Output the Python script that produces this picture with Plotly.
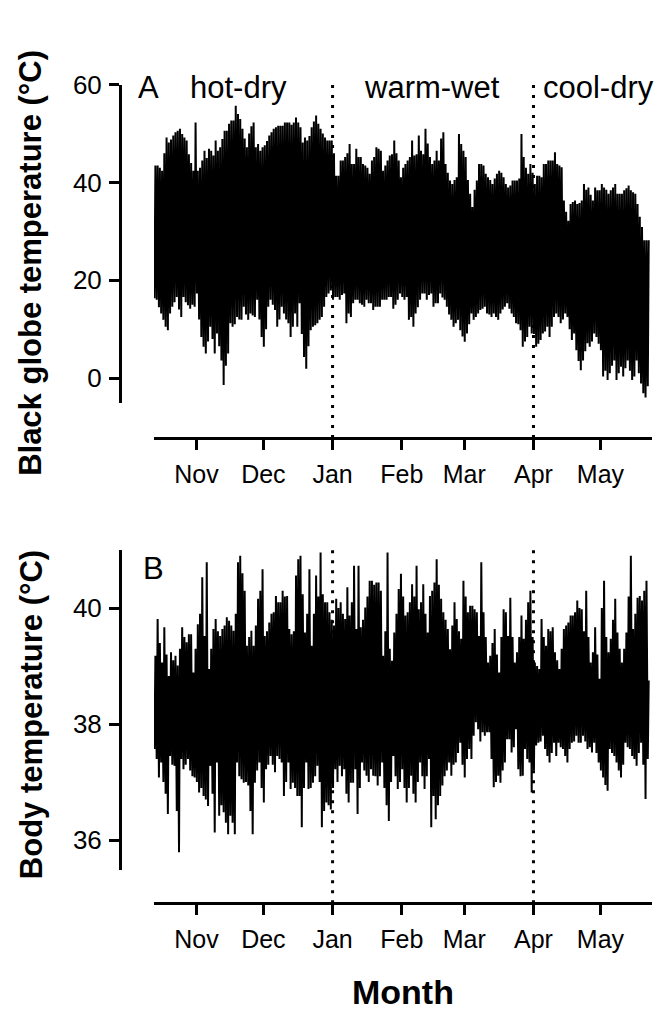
import pandas as pd
import plotly.graph_objects as go

# ---------------- data ----------------
start_date = "2008-10-13"          # first recorded day
month_ticks = ["2008-11-01", "2008-12-01", "2009-01-01", "2009-02-01",
               "2009-03-01", "2009-04-01", "2009-05-01"]
month_labels = ["Nov", "Dec", "Jan", "Feb", "Mar", "Apr", "May"]
season_bounds = ["2009-01-01", "2009-04-01"]
season_labels = ["hot-dry", "warm-wet", "cool-dry"]

# Panel A: black globe temperature, daily maximum / minimum (°C)
a_max = [43.5, 43.5, 43.0, 42.4, 46.0, 49.2, 48.2, 48.8, 49.6, 50.3,
         50.6, 51.0, 49.9, 49.2, 48.6, 45.8, 44.0, 42.4, 52.3, 42.4,
         43.0, 44.5, 46.5, 45.0, 46.9, 46.5, 45.5, 48.6, 46.5, 47.2,
         48.9, 50.6, 50.6, 52.0, 52.7, 52.7, 55.7, 54.0, 53.0, 51.0,
         49.0, 47.2, 50.0, 51.5, 52.3, 47.2, 47.9, 46.5, 47.2, 47.6,
         48.5, 49.6, 50.3, 51.0, 51.3, 51.6, 51.6, 51.6, 52.3, 52.3,
         52.3, 51.8, 52.3, 53.3, 52.3, 51.3, 48.2, 49.2, 48.6, 49.5,
         51.3, 52.5, 53.7, 52.0, 51.0, 50.0, 49.2, 48.6, 48.6, 48.6,
         46.0, 41.4, 41.4, 44.5, 44.5, 45.2, 46.0, 47.9, 43.8, 43.8,
         46.9, 45.2, 45.2, 43.8, 43.5, 43.0, 41.8, 44.5, 45.2, 47.2,
         46.9, 46.5, 42.4, 43.5, 44.5, 45.5, 45.8, 48.6, 46.0, 44.5,
         41.1, 43.0, 43.8, 44.5, 45.2, 48.6, 45.5, 45.8, 49.6, 46.5,
         45.8, 51.0, 48.0, 45.2, 43.8, 44.5, 46.5, 44.5, 49.0, 50.3,
         43.8, 42.0, 40.4, 39.7, 40.5, 41.1, 49.9, 47.9, 46.5, 45.2,
         40.5, 37.7, 35.0, 38.5, 40.4, 43.8, 43.8, 43.5, 41.8, 41.1,
         40.5, 39.7, 40.8, 41.8, 42.4, 42.0, 41.1, 39.7, 39.0, 39.4,
         40.4, 40.4, 40.4, 40.8, 49.9, 45.2, 43.0, 41.8, 43.8, 42.0,
         39.7, 41.4, 41.4, 41.1, 43.8, 43.8, 44.5, 44.5, 44.5, 46.2,
         43.8, 43.5, 43.1, 36.3, 34.0, 32.2, 35.6, 36.0, 36.3, 35.6,
         35.8, 36.3, 39.7, 38.5, 39.0, 37.5, 36.3, 39.0, 38.4, 38.4,
         39.7, 39.0, 38.5, 37.7, 38.4, 39.0, 39.7, 37.7, 37.7, 37.7,
         38.4, 38.8, 39.4, 38.4, 38.0, 37.7, 35.6, 33.0, 30.9, 28.2,
         28.2, 28.2]
a_min = [16.3, 16.0, 14.5, 13.2, 11.9, 10.5, 9.8, 13.2, 14.6, 15.5,
         16.6, 14.0, 12.5, 16.6, 15.5, 14.9, 14.2, 15.0, 14.6, 17.3,
         12.0, 8.4, 6.4, 5.0, 7.5, 10.5, 8.0, 5.0, 9.1, 6.5,
         3.6, -1.4, 2.5, 5.0, 11.2, 10.5, 11.0, 12.5, 12.0, 11.9,
         14.6, 13.0, 11.9, 13.2, 12.8, 12.5, 16.0, 12.0, 8.4, 6.4,
         10.0, 14.6, 16.0, 15.0, 13.9, 10.5, 12.0, 14.6, 13.2, 12.0,
         11.2, 8.4, 10.5, 13.2, 10.5, 15.3, 9.0, 4.3, 1.9, 6.5,
         9.8, 10.5, 10.8, 11.2, 11.9, 12.5, 14.6, 16.6, 17.3, 17.9,
         16.0, 16.6, 16.6, 16.0, 17.0, 17.3, 11.2, 13.2, 12.5, 15.3,
         16.0, 16.0, 15.3, 15.0, 14.6, 16.0, 15.3, 15.3, 13.9, 14.6,
         14.6, 14.6, 16.0, 16.0, 16.0, 16.6, 16.6, 14.2, 15.0, 16.0,
         17.3, 16.6, 16.0, 16.6, 11.9, 12.5, 10.5, 13.2, 14.5, 16.0,
         17.3, 17.3, 16.0, 17.0, 17.3, 14.6, 15.3, 15.3, 17.3, 16.5,
         16.0, 14.6, 13.0, 11.9, 10.5, 11.2, 11.9, 9.8, 8.5, 7.4,
         9.1, 11.0, 13.2, 11.9, 12.5, 13.2, 13.9, 14.2, 14.6, 13.2,
         13.0, 12.5, 13.2, 12.5, 11.9, 13.2, 14.0, 14.6, 15.3, 14.2,
         13.2, 12.5, 11.2, 11.0, 9.8, 6.4, 7.5, 8.4, 10.5, 9.1,
         9.0, 6.4, 7.0, 7.8, 9.1, 9.5, 10.5, 8.4, 10.5, 12.5,
         13.2, 12.5, 11.2, 12.0, 13.2, 12.5, 10.0, 7.8, 9.1, 5.7,
         3.5, 1.6, 3.6, 5.5, 7.1, 6.4, 7.5, 9.1, 8.4, 7.0,
         5.7, 0.3, 1.5, -0.4, 1.0, 2.5, 3.6, -0.4, 1.0, 2.3,
         0.3, 2.0, 3.6, 1.5, -0.4, 0.3, 3.6, 1.0, -1.1, -3.1,
         -4.0, -1.7]

# Panel B: body temperature, daily maximum / minimum (°C)
b_max = [39.18, 39.81, 39.4, 39.06, 39.67, 39.2, 38.83, 39.24, 39.1, 39.18,
         39.01, 39.3, 39.67, 39.5, 39.41, 39.55, 39.55, 38.89, 39.3, 39.72,
         39.9, 40.53, 39.52, 40.79, 38.95, 39.3, 39.64, 39.81, 39.6, 39.52,
         39.64, 39.7, 39.84, 39.78, 39.7, 39.61, 39.9, 40.79, 40.9, 40.6,
         40.30, 39.35, 39.5, 39.61, 39.35, 39.7, 40.16, 40.3, 40.67, 39.52,
         39.6, 39.75, 39.9, 39.93, 40.21, 40.1, 40.10, 40.30, 40.2, 40.21,
         39.64, 39.55, 39.6, 40.56, 40.84, 40.90, 40.24, 39.58, 39.9, 40.67,
         39.35, 39.9, 40.56, 40.2, 40.96, 40.24, 40.1, 40.10, 39.93, 39.8,
         39.70, 40.16, 40.0, 40.10, 39.9, 39.81, 40.36, 39.87, 40.1, 40.73,
         39.64, 40.73, 39.67, 39.8, 40.01, 40.2, 40.47, 40.47, 40.4, 40.44,
         40.44, 40.3, 39.18, 39.6, 40.96, 39.3, 39.09, 39.58, 39.9, 40.33,
         40.59, 40.2, 39.87, 39.93, 40.1, 40.41, 40.2, 40.73, 39.98, 40.1,
         40.41, 39.9, 39.58, 40.21, 40.3, 40.44, 40.84, 40.4, 40.16, 39.93,
         39.8, 39.64, 39.29, 39.7, 40.10, 39.81, 39.6, 39.47, 40.47, 40.2,
         39.93, 40.04, 40.04, 39.98, 39.93, 39.52, 40.79, 39.93, 39.5, 39.06,
         39.18, 39.4, 39.64, 39.2, 38.89, 39.5, 39.98, 39.93, 39.52, 40.18,
         39.5, 39.06, 39.24, 39.5, 39.87, 39.47, 39.8, 40.10, 40.30, 39.5,
         39.06, 39.0, 38.95, 39.81, 39.5, 39.35, 39.64, 39.6, 39.67, 39.24,
         39.1, 38.95, 39.3, 39.64, 39.7, 39.75, 39.87, 39.87, 39.93, 40.13,
         40.0, 39.98, 39.6, 40.30, 39.5, 39.06, 39.24, 39.67, 39.2, 38.78,
         40.0, 40.47, 39.5, 39.24, 39.47, 39.8, 40.16, 39.58, 39.3, 39.06,
         39.3, 39.58, 40.2, 40.90, 39.64, 39.9, 40.18, 40.21, 40.13, 40.3,
         40.47, 38.75]
b_min = [37.57, 37.4, 37.08, 37.34, 37.0, 36.8, 36.45, 37.45, 37.3, 37.28,
         36.5, 35.79, 37.40, 37.22, 37.3, 37.40, 37.2, 37.1, 37.08, 37.0,
         36.82, 36.9, 36.76, 36.7, 36.59, 37.28, 36.8, 36.13, 37.34, 36.42,
         36.6, 36.48, 36.3, 36.10, 36.42, 36.3, 36.10, 37.34, 37.1, 37.05,
         36.99, 37.0, 36.94, 36.5, 36.10, 36.99, 37.2, 37.34, 36.9, 36.65,
         37.22, 37.3, 37.45, 37.3, 37.17, 37.45, 37.4, 37.34, 36.76, 37.0,
         37.34, 36.88, 36.99, 36.9, 36.76, 36.76, 36.22, 36.9, 37.34, 36.88,
         36.9, 36.99, 37.1, 37.28, 37.0, 36.22, 36.5, 36.65, 36.6, 36.53,
         36.9, 37.22, 37.0, 37.28, 37.1, 37.22, 36.8, 36.65, 36.99, 36.99,
         37.22, 36.45, 36.9, 37.34, 37.2, 37.11, 37.0, 37.22, 37.11, 37.1,
         36.94, 37.1, 37.34, 36.9, 36.6, 36.33, 37.0, 37.45, 37.1, 36.88,
         37.0, 37.22, 36.9, 36.65, 36.9, 37.11, 36.8, 36.65, 37.0, 37.34,
         37.1, 36.88, 37.1, 37.40, 36.22, 36.76, 36.36, 36.6, 36.76, 36.94,
         37.1, 37.2, 37.34, 37.11, 37.3, 37.34, 37.5, 37.68, 37.3, 37.08,
         37.4, 37.57, 37.40, 37.80, 38.03, 37.91, 37.7, 37.86, 37.80, 37.86,
         37.86, 37.4, 36.91, 37.0, 37.11, 36.99, 37.2, 37.34, 37.74, 37.74,
         37.51, 37.6, 37.91, 37.22, 37.1, 37.11, 37.57, 37.40, 37.34, 36.82,
         37.2, 37.63, 37.68, 37.7, 37.80, 37.57, 37.45, 37.34, 37.5, 37.68,
         37.45, 37.68, 37.6, 37.57, 37.45, 37.34, 37.57, 37.68, 37.7, 37.80,
         37.68, 37.68, 37.80, 37.7, 37.57, 37.6, 37.51, 37.68, 37.5, 37.34,
         37.2, 37.08, 36.95, 36.85, 37.57, 37.5, 37.45, 37.34, 37.2, 37.08,
         37.3, 37.68, 37.6, 37.57, 37.45, 37.40, 37.28, 37.5, 37.68, 37.3,
         36.71, 37.40]

a_ticks = [0, 20, 40, 60]
b_ticks = [36, 38, 40]

# ---------------- build the daily min->max traces ----------------
W, H = 659, 1012
FONT = "Liberation Sans, Arial, sans-serif"
# the photographed page shows the figure about 15 px lower and 1.5 % shorter
# than laid out; target pixel rows are mapped back through that.
Y_OFF, Y_SCALE = 15.3, 0.9845


def day_series(vmin, vmax):
    t0 = pd.Timestamp(start_date)
    xs, ys = [], []
    for i, (lo, hi) in enumerate(zip(vmin, vmax)):
        day = t0 + pd.Timedelta(days=i)
        xs += [day + pd.Timedelta(hours=5), day + pd.Timedelta(hours=15)]
        ys += [lo, hi]
    return xs, ys


def px_x(p):
    return p / W


def px_y(p):
    return 1 - ((p - Y_OFF) / Y_SCALE) / H


xa, ya = day_series(a_min, a_max)
xb, yb = day_series(b_min, b_max)

fig = go.Figure()
fig.add_trace(go.Scatter(x=xa, y=ya, mode="lines", xaxis="x", yaxis="y",
                         line=dict(color="black", width=2), hoverinfo="skip"))
fig.add_trace(go.Scatter(x=xb, y=yb, mode="lines", xaxis="x2", yaxis="y2",
                         line=dict(color="black", width=2), hoverinfo="skip"))

x_start = pd.Timestamp(start_date)
x_end = x_start + pd.Timedelta(days=223.1)
xdom = [px_x(154), px_x(652)]

xaxis_common = dict(
    type="date", domain=xdom, range=[x_start, x_end],
    tickvals=month_ticks, ticktext=month_labels,
    showline=True, linecolor="black", linewidth=3,
    ticks="outside", ticklen=10, tickwidth=3, tickcolor="black",
    showgrid=False, zeroline=False, anchor="free",
    tickfont=dict(family=FONT, size=25, color="black"),
    ticklabelstandoff=3,
)
yaxis_common = dict(
    showline=True, linecolor="black", linewidth=3,
    ticks="outside", ticklen=10, tickwidth=3, tickcolor="black",
    showgrid=False, zeroline=False, anchor="free", position=px_x(120),
    tickfont=dict(family=FONT, size=26, color="black"),
    ticklabelstandoff=2,
)

fig.update_layout(
    width=W, height=H, autosize=False,
    margin=dict(l=0, r=0, t=0, b=0, pad=0),
    paper_bgcolor="white", plot_bgcolor="white",
    showlegend=False,
    xaxis=dict(xaxis_common, position=px_y(438)),
    xaxis2=dict(xaxis_common, position=px_y(903)),
    yaxis=dict(yaxis_common, domain=[px_y(403), px_y(85)],
               range=[-5.1, 60], tickvals=a_ticks),
    yaxis2=dict(yaxis_common, domain=[px_y(870), px_y(550)],
                range=[35.48, 41.0], tickvals=b_ticks),
)

# season boundaries (dotted)
for b in season_bounds:
    fig.add_shape(type="line", xref="x", yref="paper", x0=b, x1=b,
                  y0=px_y(438), y1=px_y(82),
                  line=dict(color="black", width=3, dash="3px,7px"))
    fig.add_shape(type="line", xref="x2", yref="paper", x0=b, x1=b,
                  y0=px_y(903), y1=px_y(550),
                  line=dict(color="black", width=3, dash="3px,7px"))

ann_font = dict(family=FONT, size=31, color="black")
fig.add_annotation(text="A", xref="paper", yref="paper", x=px_x(136), y=px_y(88),
                   xanchor="left", yanchor="middle", showarrow=False, font=ann_font)
fig.add_annotation(text="B", xref="paper", yref="paper", x=px_x(141), y=px_y(568),
                   xanchor="left", yanchor="middle", showarrow=False, font=ann_font)
for txt, cx in zip(season_labels, [238, 432, 598]):
    fig.add_annotation(text=txt, xref="paper", yref="paper", x=px_x(cx), y=px_y(88),
                       xanchor="center", yanchor="middle", showarrow=False, font=ann_font)

title_font = dict(family=FONT, size=31, color="black")
fig.add_annotation(text="<b>Black globe temperature (°C)</b>", textangle=-90,
                   xref="paper", yref="paper", x=px_x(31), y=px_y(263),
                   xanchor="center", yanchor="middle", showarrow=False, font=title_font)
fig.add_annotation(text="<b>Body temperature (°C)</b>", textangle=-90,
                   xref="paper", yref="paper", x=px_x(31), y=px_y(715),
                   xanchor="center", yanchor="middle", showarrow=False, font=title_font)
fig.add_annotation(text="<b>Month</b>", xref="paper", yref="paper",
                   x=px_x(403), y=px_y(992), xanchor="center", yanchor="middle",
                   showarrow=False, font=dict(family=FONT, size=34, color="black"))

fig.write_html(
    "out.html",
    config={"responsive": False, "displayModeBar": False},
    post_script=(
        "var gd=document.getElementById('{plot_id}');"
        "gd.style.position='fixed';gd.style.top='0px';gd.style.left='0px';"
        "document.documentElement.style.overflow='hidden';"
        "document.body.style.margin='0';document.body.style.overflow='hidden';"
    ),
)
